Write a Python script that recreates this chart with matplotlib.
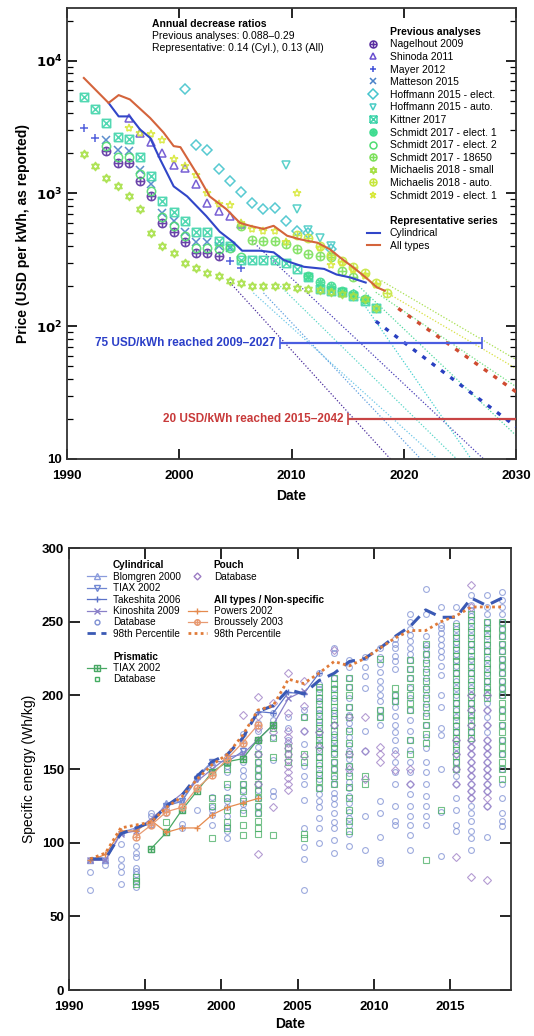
import numpy as np
import matplotlib.pyplot as plt
from matplotlib.path import Path
from matplotlib.lines import Line2D

plt.rcParams['font.family'] = ['Liberation Sans', 'DejaVu Sans']

# ---------------- top panel: battery pack / cell prices ----------------
nagelhout_yr = [1993.5, 1994.5, 1995.5, 1996.5, 1997.5, 1998.5, 1999.5, 2000.5, 2001.5, 2002.5, 2003.5]
nagelhout = [2080, 1700, 1700, 1235, 950, 600, 515, 430, 355, 355, 340]

shinoda_yr = [1995.5, 1996.5, 1997.5, 1998.5, 1999.5, 2000.5, 2001.5, 2002.5, 2003.5, 2004.5, 2005.5]
shinoda = [3700, 2860, 2440, 2000, 1650, 1560, 1180, 850, 740, 680, 590]

mayer_yr = [1991.5, 1992.5, 2004.5, 2005.5]
mayer = [3100, 2600, 310, 275]

matteson_yr = [1993.5, 1994.5, 1995.5, 1996.5, 1997.5, 1998.5, 1999.5, 2000.5, 2001.5, 2002.5, 2003.5, 2004.5]
matteson = [2520, 2140, 2080, 1500, 1170, 715, 620, 515, 430, 430, 400, 390]

hoff_e_yr = [2000.5, 2001.5, 2002.5, 2003.5, 2004.5, 2005.5, 2006.5, 2007.5, 2008.5, 2009.5, 2010.5, 2011.5, 2013.5]
hoff_e = [6130, 2310, 2140, 1520, 1240, 1030, 850, 760, 780, 620, 520, 500, 380]

hoff_a_yr = [2009.5, 2010.5, 2011.5, 2012.5, 2013.5]
hoff_a = [1650, 760, 530, 465, 400]

kittner_yr = [1991.5, 1992.5, 1993.5, 1994.5, 1995.5, 1996.5, 1997.5, 1998.5, 1999.5, 2000.5,
              2001.5, 2002.5, 2003.5, 2004.5, 2005.5, 2006.5, 2007.5, 2008.5, 2009.5, 2010.5,
              2011.5, 2012.5, 2013.5, 2014.5, 2015.5, 2016.5, 2017.5]
kittner = [5300, 4350, 3400, 2670, 2580, 1880, 1350, 870, 720, 620,
           515, 515, 440, 400, 315, 315, 315, 315, 300, 270,
           235, 190, 185, 180, 170, 155, 138]

schmidt1_yr = [2011.5, 2012.5, 2013.5, 2014.5, 2015.5, 2016.5]
schmidt1 = [240, 215, 200, 185, 175, 160]

schmidt2_yr = [1993.5, 1994.5, 1995.5, 1996.5, 1997.5, 1998.5, 1999.5, 2000.5, 2001.5, 2002.5, 2003.5, 2004.5, 2005.5]
schmidt2 = [2270, 1870, 1870, 1390, 1050, 660, 570, 480, 390, 390, 380, 390, 330]

schmidt18650_yr = [2005.5, 2006.5, 2007.5, 2008.5, 2009.5, 2010.5, 2011.5, 2012.5, 2013.5, 2014.5, 2015.5]
schmidt18650 = [565, 445, 435, 435, 415, 380, 348, 340, 330, 260, 233]

mich_small_yr = kittner_yr
mich_small = [1990, 1600, 1310, 1130, 950, 760, 505, 400, 355, 300,
              275, 250, 240, 220, 210, 200, 200, 200, 200, 195,
              190, 186, 180, 176, 170, 160, 138]

mich_auto_yr = [2010.5, 2011.5, 2012.5, 2013.5, 2014.5, 2015.5, 2016.5, 2017.5, 2018.5]
mich_auto = [490, 460, 400, 345, 310, 280, 250, 210, 178]

schmidt2019_yr = [1995.5, 1996.5, 1997.5, 1998.5, 1999.5, 2000.5, 2001.5, 2002.5, 2003.5, 2004.5,
                  2005.5, 2006.5, 2007.5, 2008.5, 2009.5, 2010.5, 2012.5, 2013.5, 2014.5, 2015.5,
                  2016.5, 2017.5]
schmidt2019 = [3100, 2870, 2780, 2520, 1800, 1600, 1370, 1000, 830, 820,
               600, 540, 520, 520, 430, 1000, 390, 290, 300, 265,
               240, 205]

all_yr = [1991.5, 1993.7, 1994.6, 1995.6, 1997.4, 1998.6, 1999.5, 2000.1, 2001.6, 2002.7, 2004.2, 2005.4,
          2006.3, 2007.5, 2008.4, 2009.6, 2010.8, 2012.3, 2013.4, 2014.3, 2015.5, 2016.6, 2017.6, 2018.3]
all_val = [7400, 4800, 5500, 5100, 3700, 2870, 2270, 2230, 1390, 950, 760, 600,
           570, 540, 570, 480, 450, 425, 380, 330, 277, 233, 196, 185]

cyl_yr = [1993.7, 1994.6, 1995.6, 1996.5, 1997.4, 1998.3, 1999.5, 2000.7, 2002.4, 2003.6,
          2004.8, 2005.6, 2007.2, 2008.4, 2009.3, 2011.1, 2012.9, 2014.0, 2015.2, 2016.6]
cyl_val = [4800, 3800, 3800, 3030, 2620, 1800, 1130, 950, 675, 515,
           430, 370, 370, 360, 315, 280, 270, 245, 233, 213]

proj_all_yr = [2019.5, 2030]
proj_all = [136, 32]
proj_cyl_yr = [2017.5, 2030]
proj_cyl = [109, 17.5]

# extrapolated trends of previous analyses: (colour, year0, value0, year1, value1)
trends = [
    ('#4b2d9c', 2004.5, 214, 2018.8, 10),
    ('#4a40b8', 2006.5, 436, 2027.1, 10),
    ('#6fc8e8', 2006.6, 178, 2023.0, 10),
    ('#5f9fe0', 2007.5, 178, 2021.5, 10),
    ('#5ad6c8', 2009.0, 200, 2024.7, 10),
    ('#45d0d0', 2015.5, 190, 2026.0, 10),
    ('#50d8a0', 2016.0, 200, 2030, 15),
    ('#70e080', 2017.5, 180, 2030, 35),
    ('#d8e040', 2017.5, 200, 2030, 48),
    ('#a8e050', 2018.0, 220, 2030, 56),
]

reach75 = [2009, 2027]
reach20 = [2015, 2042]

# ---------------- bottom panel: specific energy ----------------
blomgren_yr = [1991.4, 1992.4, 1993.4, 1994.4, 1995.4, 1996.4, 1997.4, 1998.4, 1999.4]
blomgren = [88, 88, 107, 110, 113, 127, 128, 145, 155]
tiax_cyl_yr = [1996.4, 1997.4, 1998.4, 1999.4, 2000.4, 2001.4]
tiax_cyl = [125, 128, 143, 155, 155, 162]
takeshita_yr = [2002.4, 2003.4, 2004.4, 2005.4, 2006.4]
takeshita = [189, 188, 202, 201, 215]
kinoshita_yr = [1991.4, 1992.4, 1993.4, 1994.4, 1999.4, 2000.4, 2001.4, 2002.4, 2003.4, 2004.4, 2005.4]
kinoshita = [88, 88, 106, 108, 150, 158, 160, 170, 180, 198, 203]
cyl98_yr = [1991.4, 1992.4, 1993.4, 1994.4, 1995.4, 1996.4, 1997.4, 1998.4, 1999.4, 2000.4,
            2001.4, 2002.4, 2003.4, 2004.4, 2005.4, 2006.4, 2007.4, 2008.4, 2009.4, 2010.4,
            2011.4, 2012.4, 2013.4, 2014.4, 2015.4, 2016.4, 2017.4, 2018.4]
cyl98 = [89, 89, 106, 110, 114, 125, 132, 145, 155, 160,
         171, 189, 193, 204, 201, 210, 215, 223, 225, 232,
         240, 247, 258, 253, 253, 266, 261, 266]
tiax_pri_yr = [1995.4, 1996.4, 1997.4, 1998.4, 1999.4, 2000.4, 2001.4, 2002.4, 2003.4]
tiax_pri = [96, 107, 122, 135, 148, 155, 157, 170, 180]
powers_yr = [1991.4, 1992.4, 1993.4, 1994.4, 1995.4, 1996.4, 1997.4, 1998.4, 1999.4, 2000.4, 2001.4, 2002.4]
powers = [88, 92, 108, 108, 115, 107, 110, 110, 119, 124, 127, 130]
broussely_yr = [1994.4, 1995.4, 1996.4, 1997.4, 1998.4, 1999.4, 2000.4, 2001.4, 2002.4]
broussely = [104, 112, 121, 124, 137, 146, 157, 168, 180]
all98_yr = cyl98_yr
all98 = [89, 93, 110, 112, 114, 124, 131, 143, 153, 160,
         173, 190, 193, 211, 208, 215, 223, 220, 225, 232,
         239, 244, 244, 250, 254, 260, 260, 260]

db_years = list(range(1991, 2019))
cyl_db = [
    [88, 80, 68], [85, 88], [99, 89, 84, 80, 72], [98, 93, 90, 83, 81, 79, 75, 70],
    [120, 118], [123, 120], [113, 110, 122], [122],
    [131, 124, 122, 119, 112], [152, 148, 138, 131, 128, 124, 118, 111, 108, 103],
    [174, 167, 160, 155, 149, 145, 140, 136, 130, 126, 122],
    [181, 176, 170, 165, 160, 155, 150, 145, 140, 136, 130, 125, 120],
    [188, 183, 172, 156, 135, 132], [185, 178, 170],
    [190, 185, 176, 167, 152, 145, 140, 129, 110, 97, 89, 68],
    [215, 208, 204, 199, 196, 191, 188, 183, 180, 175, 172, 167, 163, 158, 153, 147, 143, 137, 133, 128, 124, 117, 110, 100],
    [232, 229, 212, 205, 198, 190, 186, 180, 174, 170, 165, 161, 155, 150, 144, 140, 134, 130, 126, 120, 114, 110, 102, 93],
    [224, 219, 212, 206, 198, 192, 187, 181, 177, 172, 166, 162, 157, 152, 147, 141, 137, 132, 127, 121, 117, 112, 106, 98],
    [226, 219, 213, 205, 176, 162, 118, 95],
    [232, 226, 221, 216, 210, 205, 200, 196, 190, 185, 180, 128, 120, 104, 88, 86],
    [238, 235, 232, 227, 223, 218, 200, 196, 192, 186, 180, 175, 170, 163, 155, 148, 140, 125, 115, 112],
    [255, 250, 245, 241, 237, 232, 228, 224, 218, 212, 205, 198, 190, 183, 176, 170, 163, 155, 148, 140, 133, 125, 118, 112, 105, 95],
    [272, 255, 240, 234, 232, 228, 224, 218, 212, 206, 200, 194, 188, 180, 172, 164, 155, 148, 140, 132, 125, 118, 112],
    [260, 248, 246, 242, 238, 234, 230, 226, 220, 214, 200, 192, 178, 173, 150, 121, 91],
    [260, 249, 245, 240, 236, 232, 228, 224, 220, 215, 210, 205, 200, 195, 190, 185, 180, 175, 170, 165, 160, 155, 150, 145, 140, 130, 122, 112, 108],
    [268, 261, 258, 254, 250, 245, 240, 235, 230, 225, 220, 215, 210, 205, 200, 195, 190, 185, 180, 175, 170, 165, 160, 155, 150, 145, 140, 135, 130, 125, 120, 115, 108, 103, 95],
    [268, 260, 255, 250, 245, 240, 235, 230, 225, 220, 215, 210, 205, 200, 195, 190, 185, 180, 175, 170, 165, 160, 155, 150, 145, 140, 135, 125, 104],
    [270, 265, 260, 255, 250, 245, 240, 235, 230, 225, 220, 215, 210, 205, 200, 190, 180, 170, 160, 150, 140, 130, 120, 115, 111],
]
pri_db = [
    [], [], [], [77, 74, 72], [96], [107, 114], [], [],
    [148, 130, 125, 103], [150, 140, 130, 122, 114, 110], [140, 135, 128, 120, 112, 105],
    [160, 155, 150, 145, 140, 135, 130, 125, 120, 115, 110, 106],
    [178, 171, 158, 105], [165, 160, 155], [185, 160, 155, 106, 103],
    [206, 202, 198, 194, 190, 186, 182, 178, 174, 170, 166, 162, 158, 154, 150, 146, 142, 137],
    [212, 208, 204, 200, 196, 192, 188, 184, 180, 176, 172, 168, 164, 160, 155, 150, 145, 140],
    [212, 206, 200, 192, 185, 176, 168, 160, 152, 145, 138, 130, 122, 115, 108],
    [145, 140], [225, 190, 185], [205, 200, 196],
    [224, 218, 212, 206, 200, 195, 190, 170, 160],
    [235, 228, 222, 216, 210, 204, 198, 192, 186, 180, 174, 168, 88],
    [122],
    [247, 243, 239, 235, 231, 227, 223, 219, 215, 211, 207, 203, 199, 195, 191, 187, 183, 179, 175, 171, 167, 163, 159, 155, 150],
    [255, 251, 247, 243, 239, 235, 231, 227, 223, 219, 215, 211, 207, 203, 199, 195, 191, 187, 183, 179, 175, 171],
    [250, 246, 242, 238, 234, 230, 226, 222, 218, 214, 210, 206, 202, 198],
    [250, 245, 240, 235, 230, 225, 220, 215, 210, 205, 200, 195, 190, 185, 180, 175, 170, 165, 160, 155, 150, 143],
]
pouch_db = [
    [], [], [], [], [], [], [], [], [], [], [187],
    [199, 186, 178, 170, 160, 140, 92], [195, 175, 124],
    [215, 188, 176, 172, 168, 164, 160, 156, 152, 148, 144, 140, 136],
    [210, 193, 176, 159], [175, 165], [231, 180], [185, 160, 150], [185, 162, 143],
    [165, 160, 155], [149, 160], [150, 140], [], [],
    [170, 160, 150, 140, 90],
    [275, 260, 200, 190, 180, 170, 165, 160, 155, 150, 145, 140, 135, 130, 77],
    [200, 190, 180, 170, 165, 160, 155, 150, 145, 140, 135, 130, 125, 75],
    [],
]


def compound(*parts):
    return Path.make_compound_path(*parts)


M, L = Path.MOVETO, Path.LINETO
circ = Path.unit_circle()
plus = Path([[-1, 0], [1, 0], [0, -1], [0, 1]], [M, L, M, L])
cross = Path([[-1, -1], [1, 1], [-1, 1], [1, -1]], [M, L, M, L])
box = Path([[-1, -1], [1, -1], [1, 1], [-1, 1], [-1, -1]], [M, L, L, L, L])
tri = Path.unit_regular_polygon(3)
oplus = compound(circ, plus)
boxx = compound(box, cross)
boxplus = compound(box, plus)
david = compound(tri, Path(-tri.vertices, tri.codes))
ostar = compound(circ, plus, Path(cross.vertices * 0.7, cross.codes))

fig = plt.figure(figsize=(5.34, 10.36), dpi=100)
ax = fig.add_axes([0.1255, 0.557, 0.841, 0.4355])

series = [
    ('Nagelhout 2009', nagelhout_yr, nagelhout, '#5a2ea0', oplus),
    ('Shinoda 2011', shinoda_yr, shinoda, '#6a4fd0', '^'),
    ('Mayer 2012', mayer_yr, mayer, '#3f4fd8', '+'),
    ('Matteson 2015', matteson_yr, matteson, '#4a82c8', 'x'),
    ('Hoffmann 2015 - elect.', hoff_e_yr, hoff_e, '#45c4cc', 'D'),
    ('Hoffmann 2015 - auto.', hoff_a_yr, hoff_a, '#48ccc4', 'v'),
    ('Kittner 2017', kittner_yr, kittner, '#3fd4aa', boxx),
    ('Schmidt 2017 - elect. 1', schmidt1_yr, schmidt1, '#3fdc90', ostar),
    ('Schmidt 2017 - elect. 2', schmidt2_yr, schmidt2, '#50dc72', 'o'),
    ('Schmidt 2017 - 18650', schmidt18650_yr, schmidt18650, '#7ce05a', oplus),
    ('Michaelis 2018 - small', mich_small_yr, mich_small, '#a6e046', david),
    ('Michaelis 2018 - auto.', mich_auto_yr, mich_auto, '#c6e63c', oplus),
    ('Schmidt 2019 - elect. 1', schmidt2019_yr, schmidt2019, '#d8e83a', '*'),
]

for col, x0, y0, x1, y1 in trends:
    ax.plot([x0, x1], [y0, y1], ls=(0, (1, 1.5)), lw=0.9, color=col, zorder=1)

handles = [Line2D([], [], ls='none', label='Previous analyses')]
for name, xs, ys, col, mk in series:
    ms = 6 if mk not in ('D',) else 5
    ax.plot(xs, ys, ls='none', marker=mk, ms=ms, mfc='none', mec=col, mew=1.1, alpha=0.9, zorder=3)
    handles.append(Line2D([], [], ls='none', marker=mk, ms=5, mfc='none', mec=col, mew=1.1, label=name))

ax.plot(cyl_yr, cyl_val, color='#3146c8', lw=1.5, zorder=4)
ax.plot(all_yr, all_val, color='#d4643c', lw=1.5, zorder=4)
ax.plot(proj_all_yr, proj_all, color='#cf4b30', lw=2.4, ls=(0, (1.3, 2.2)), zorder=4)
ax.plot(proj_cyl_yr, proj_cyl, color='#2940c0', lw=2.4, ls=(0, (1.3, 2.2)), zorder=4)

ax.errorbar(np.mean(reach75), 75, xerr=[[np.mean(reach75) - reach75[0]], [reach75[1] - np.mean(reach75)]],
            fmt='none', ecolor='#4a5de0', elinewidth=1.6, capsize=4, capthick=1.2, zorder=5)
ax.errorbar(np.mean(reach20), 20, xerr=[[np.mean(reach20) - reach20[0]], [reach20[1] - np.mean(reach20)]],
            fmt='none', ecolor='#c84444', elinewidth=1.6, capsize=4, capthick=1.2, zorder=5)
ax.text(reach75[0] - 0.4, 75, '75 USD/kWh reached 2009\u20132027', color='#2b3fc8',
        fontsize=8.5, fontweight='bold', ha='right', va='center')
ax.text(reach20[0] - 0.4, 20, '20 USD/kWh reached 2015\u20132042', color='#c83a3a',
        fontsize=8.5, fontweight='bold', ha='right', va='center')

ax.text(0.19, 0.965, 'Annual decrease ratios', transform=ax.transAxes, fontsize=7.5,
        fontweight='bold', va='center')
ax.text(0.19, 0.938, 'Previous analyses: 0.088\u20130.29', transform=ax.transAxes, fontsize=7.5, va='center')
ax.text(0.19, 0.911, 'Representative: 0.14 (Cyl.), 0.13 (All)', transform=ax.transAxes, fontsize=7.5, va='center')

handles.append(Line2D([], [], ls='none', label=' '))
handles.append(Line2D([], [], ls='none', label='Representative series'))
handles.append(Line2D([], [], color='#3146c8', lw=1.5, label='Cylindrical'))
handles.append(Line2D([], [], color='#d4643c', lw=1.5, label='All types'))
leg = ax.legend(handles=handles, loc='upper left', bbox_to_anchor=(0.668, 0.958), frameon=False,
                fontsize=7.5, handlelength=1.2, handletextpad=1.0, labelspacing=0.25,
                borderpad=0, borderaxespad=0)
for t in leg.get_texts():
    if t.get_text() in ('Previous analyses', 'Representative series'):
        t.set_fontweight('bold')

ax.set_yscale('log')
ax.set_xlim(1990, 2030)
ax.set_ylim(10, 25000)
ax.set_xticks([1990, 2000, 2010, 2020, 2030])
ax.set_xticklabels(['1990', '2000', '2010', '2020', '2030'], fontweight='bold', fontsize=9.5)
ax.set_yticks([10, 100, 1000, 10000])
ax.set_yticklabels(['10', r'$\mathbf{10^2}$', r'$\mathbf{10^3}$', r'$\mathbf{10^4}$'], fontweight='bold', fontsize=9.5)
ax.tick_params(which='both', direction='in', top=True, right=True)
ax.tick_params(which='major', length=7, width=1.2)
ax.tick_params(axis='x', pad=8)
ax.tick_params(which='minor', length=4, width=0.9)
ax.set_xlabel('Date', fontweight='bold', fontsize=10, labelpad=5)
ax.set_ylabel('Price (USD per kWh, as reported)', fontweight='bold', fontsize=10)
for s in ax.spines.values():
    s.set_linewidth(1.3)
    s.set_color('#333333')

# ---------------- bottom panel ----------------
bx = fig.add_axes([0.129, 0.0444, 0.828, 0.4266])

for yr, vals in zip(db_years, cyl_db):
    bx.plot([yr + 0.4] * len(vals), vals, ls='none', marker='o', ms=4.2, mfc='none',
            mec='#7d8fd3', mew=0.8, alpha=0.75, zorder=2)
for yr, vals in zip(db_years, pri_db):
    bx.plot([yr + 0.4] * len(vals), vals, ls='none', marker='s', ms=4.0, mfc='none',
            mec='#45ad62', mew=0.8, alpha=0.75, zorder=2)
for yr, vals in zip(db_years, pouch_db):
    bx.plot([yr + 0.4] * len(vals), vals, ls='none', marker='D', ms=3.8, mfc='none',
            mec='#9c7cc4', mew=0.8, alpha=0.75, zorder=2)

line_series = [
    (blomgren_yr, blomgren, '#8a9bdc', '^'),
    (tiax_cyl_yr, tiax_cyl, '#6f86d2', 'v'),
    (takeshita_yr, takeshita, '#5b72c8', '+'),
    (kinoshita_yr, kinoshita, '#8a80c8', 'x'),
    (tiax_pri_yr, tiax_pri, '#49a865', boxplus),
    (powers_yr, powers, '#e58a4e', '+'),
    (broussely_yr, broussely, '#e89a72', oplus),
]
for xs, ys, col, mk in line_series:
    bx.plot(xs, ys, color=col, lw=0.9, marker=mk, ms=5, mfc='none', mec=col, mew=1.0, zorder=3)

bx.plot(cyl98_yr, cyl98, color='#3a59b4', lw=2.2, ls=(0, (4, 2.5)), zorder=4)
bx.plot(all98_yr, all98, color='#e07b39', lw=2.0, ls=(0, (1, 1.2)), zorder=4)

blank = Line2D([], [], ls='none')
col1 = [
    (blank, 'Cylindrical'),
    (Line2D([], [], color='#8a9bdc', lw=0.9, marker='^', ms=4, mfc='none'), 'Blomgren 2000'),
    (Line2D([], [], color='#6f86d2', lw=0.9, marker='v', ms=4, mfc='none'), 'TIAX 2002'),
    (Line2D([], [], color='#5b72c8', lw=0.9, marker='+', ms=5), 'Takeshita 2006'),
    (Line2D([], [], color='#8a80c8', lw=0.9, marker='x', ms=4), 'Kinoshita 2009'),
    (Line2D([], [], ls='none', marker='o', ms=3.5, mfc='none', mec='#7d8fd3'), 'Database'),
    (Line2D([], [], color='#3a59b4', lw=2.0, ls=(0, (3, 2))), '98th Percentile'),
    (blank, ' '),
    (blank, 'Prismatic'),
    (Line2D([], [], color='#49a865', lw=0.9, marker=boxplus, ms=4, mfc='none'), 'TIAX 2002'),
    (Line2D([], [], ls='none', marker='s', ms=3.5, mfc='none', mec='#45ad62'), 'Database'),
]
col2 = [
    (blank, 'Pouch'),
    (Line2D([], [], ls='none', marker='D', ms=3.5, mfc='none', mec='#9c7cc4'), 'Database'),
    (blank, ' '),
    (blank, 'All types / Non-specific'),
    (Line2D([], [], color='#e58a4e', lw=0.9, marker='+', ms=5), 'Powers 2002'),
    (Line2D([], [], color='#e89a72', lw=0.9, marker=oplus, ms=4, mfc='none'), 'Broussely 2003'),
    (Line2D([], [], color='#e07b39', lw=2.0, ls=(0, (1, 1.2))), '98th Percentile'),
]
heads = ('Cylindrical', 'Prismatic', 'Pouch', 'All types / Non-specific')
legs = []
for entries, x0 in ((col1, 0.041), (col2, 0.269)):
    lg = bx.legend([h for h, _ in entries], [l for _, l in entries], loc='upper left',
                   bbox_to_anchor=(x0, 0.972), frameon=False, fontsize=7.2, handlelength=1.9,
                   handletextpad=0.7, labelspacing=0.14, borderpad=0, borderaxespad=0)
    for t in lg.get_texts():
        if t.get_text() in heads:
            t.set_fontweight('bold')
    legs.append(lg)
bx.add_artist(legs[0])

bx.set_xlim(1990, 2019)
bx.set_ylim(0, 300)
bx.set_xticks([1990, 1995, 2000, 2005, 2010, 2015])
bx.set_xticklabels(['1990', '1995', '2000', '2005', '2010', '2015'], fontweight='bold', fontsize=9.5)
bx.set_yticks([0, 50, 100, 150, 200, 250, 300])
bx.set_yticklabels(['0', '50', '100', '150', '200', '250', '300'], fontweight='bold', fontsize=9.5)
bx.tick_params(direction='in', top=True, right=True, length=8, width=1.2)
bx.tick_params(axis='x', pad=8)
bx.set_xlabel('Date', fontweight='bold', fontsize=10, labelpad=3)
bx.set_ylabel('Specific energy (Wh/kg)', fontsize=10)
for s in bx.spines.values():
    s.set_linewidth(1.3)
    s.set_color('#333333')

fig.savefig('out.png', dpi=100)
